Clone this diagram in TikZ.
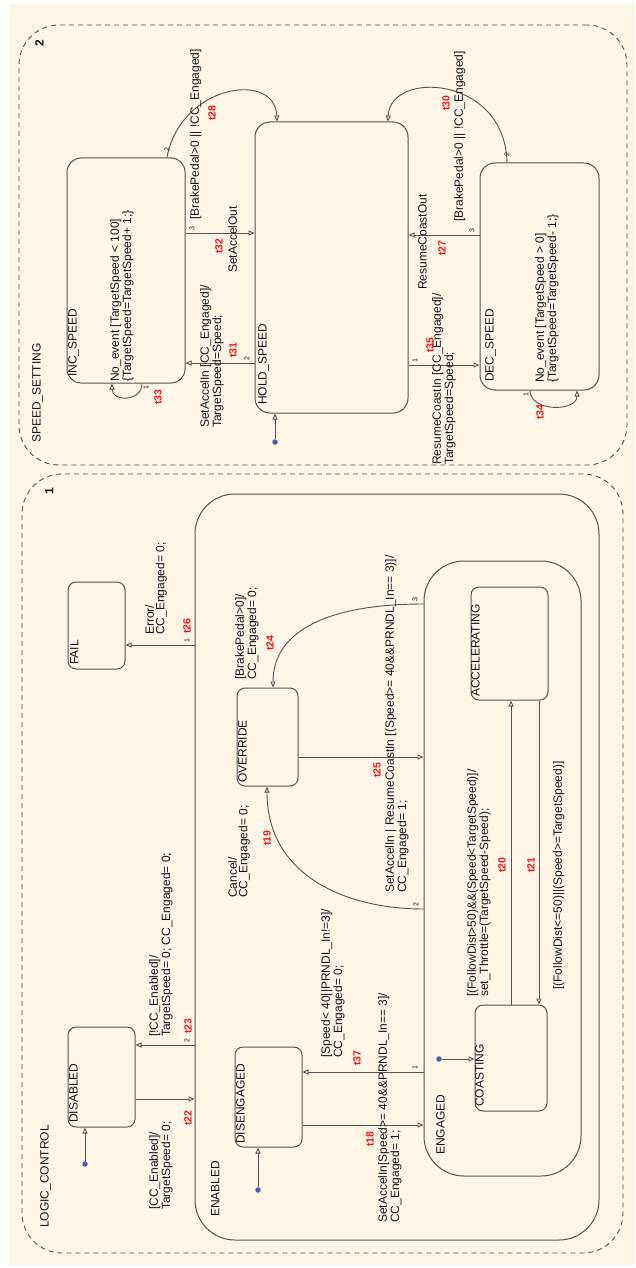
\documentclass[tikz,border=0pt]{standalone}
\usepackage{fontspec}
\setmainfont{Liberation Sans}
\usetikzlibrary{arrows.meta}
\definecolor{bgc}{HTML}{FDF5E6}
\definecolor{linec}{HTML}{555555}
\definecolor{tred}{HTML}{F01818}
\definecolor{dotc}{HTML}{4A5DB0}
\definecolor{txt}{HTML}{141420}
\begin{document}
\begin{tikzpicture}[x=1pt,y=-1pt,
  every node/.style={text=txt},
  stbox/.style={draw=linec, line width=1pt, rectangle, rounded corners=#1, inner sep=0pt},
  stbox/.default=8pt,
  parbox/.style={draw=linec, line width=0.9pt, dash pattern=on 5pt off 4pt, rectangle, rounded corners=40pt, inner sep=0pt},
  lbl/.style={rotate=90, anchor=north west, inner sep=0pt, align=left, font=\fontsize{12}{10.5}\selectfont},
  sname/.style={rotate=90, anchor=north west, inner sep=0pt, font=\fontsize{12}{12}\selectfont},
  tid/.style={rotate=90, text=tred, inner sep=0pt, font=\fontsize{10.5}{11}\selectfont\bfseries},
  num/.style={rotate=90, inner sep=0pt, font=\fontsize{7}{7}\selectfont},
  pnum/.style={rotate=90, anchor=north west, inner sep=0pt, font=\fontsize{12}{12}\selectfont\bfseries},
  trans/.style={draw=linec, line width=0.9pt, -{Triangle[open, length=6pt, width=5pt]}},
  initdot/.style={circle, fill=dotc, inner sep=0pt, minimum size=5.5pt},
]
\fill[white] (0,0) rectangle (635,1268);
\fill[bgc] (9,4) rectangle (635,1265);
\useasboundingbox (0,0) rectangle (635,1268);

% ---------- parallel states ----------
\node[parbox, minimum width=608pt, minimum height=440pt] (ss) at (323,245) {};
\node[parbox, minimum width=601pt, minimum height=779pt] (logic) at (322.5,863.5) {};
\node[pnum] (ssnum) at (35,47) {2};
\node[pnum] (lcnum) at (45,495) {1};
\node[sname] (ssname) at (32,443) {SPEED\_SETTING};
\node[sname] (lcname) at (40,1228) {LOGIC\_CONTROL};

% ---------- SPEED_SETTING states ----------
\node[stbox=14pt, minimum width=118pt, minimum height=225pt] (inc) at (126,270.5) {};
\node[stbox=15pt, minimum width=153pt, minimum height=291pt] (hold) at (331.5,267.5) {};
\node[stbox=15pt, minimum width=119pt, minimum height=227pt] (dec) at (539.5,276.5) {};
\node[sname] (incname) at (68,377) {INC\_SPEED};
\node[sname] (holdname) at (258,405) {HOLD\_SPEED};
\node[sname] (decname) at (485,382) {DEC\_SPEED};

% ---------- LOGIC_CONTROL states ----------
\node[stbox=8pt, minimum width=57pt, minimum height=87pt] (fail) at (96.5,625.5) {};
\node[stbox=40pt, minimum width=404pt, minimum height=746pt] (enabled) at (397,867) {};
\node[stbox=8pt, minimum width=61pt, minimum height=98pt] (override) at (267.5,737) {};
\node[stbox=40pt, minimum width=157pt, minimum height=615pt] (engaged) at (502.5,868.5) {};
\node[stbox=8pt, minimum width=77pt, minimum height=113pt] (accel) at (509.5,643.5) {};
\node[stbox=8pt, minimum width=72pt, minimum height=106pt] (coast) at (511,1058) {};
\node[stbox=8pt, minimum width=67pt, minimum height=100pt] (diseng) at (268.5,1097) {};
\node[stbox=8pt, minimum width=67pt, minimum height=100pt] (disabled) at (101.5,1077) {};
\node[sname] (failname) at (70,665) {FAIL};
\node[sname] (enname) at (211,1217) {ENABLED};
\node[sname] (ovname) at (238,783) {OVERRIDE};
\node[sname] (engname) at (436,1155) {ENGAGED};
\node[sname] (accname) at (471,697) {ACCELERATING};
\node[sname] (coastname) at (475,1107) {COASTING};
\node[sname] (disengname) at (236,1144) {DISENGAGED};
\node[sname] (disabname) at (69,1123) {DISABLED};

% ---------- SPEED_SETTING transitions ----------
\draw[trans] (inc.north -| 167,0) .. controls (180,85) and (275,70) .. (hold.north -| 277,0);
\node[num] (n28) at (167,150) {2};
\node[lbl] (l28) at (190,220) {[BrakePedal>0 || !CC\_Engaged]};
\node[tid] (t28) at (212,113) {t28};

\draw[trans] (inc.east |- 0,233) -- (hold.west |- 0,233);
\node[num] (n32) at (192,229) {3};
\node[lbl] (l32) at (228,273) {SetAccelOut};
\node[tid] (t32) at (219,246) {t32};

\draw[trans] (hold.west |- 0,363) -- (inc.east |- 0,363);
\node[num] (n31) at (247,359) {2};
\node[lbl] (l31) at (200,428) {SetAccelIn [CC\_Engaged]/\\TargetSpeed=Speed;};
\node[tid] (t31) at (233,350) {t31};

\draw[trans] (inc.south -| 142,0) .. controls (142,402) and (112,402) .. (inc.south -| 112,0);
\node[num] (n33) at (146,388) {1};
\node[lbl] (l33) at (110,382) {No\_event [TargetSpeed < 100]\\\{TargetSpeed=TargetSpeed+ 1;\}};
\node[tid] (t33) at (158,397) {t33};

\draw[trans] (dec.north -| 507,0) .. controls (505,75) and (390,70) .. (hold.north -| 388,0);
\node[num] (n30) at (507,155) {2};
\node[lbl] (l30) at (454,222) {[BrakePedal>0 || !CC\_Engaged]};
\node[tid] (t30) at (446,103) {t30};

\draw[trans] (dec.west |- 0,235) -- (hold.east |- 0,235);
\node[num] (n27) at (472,231) {3};
\node[lbl] (l27) at (418,290) {ResumeCoastOut};
\node[tid] (t27) at (442,248) {t27};

\draw[trans] (hold.east |- 0,365) -- (dec.west |- 0,365);
\node[num] (n35) at (415,361) {1};
\node[lbl] (l35) at (432,465) {ResumeCoastIn [CC\_Engaged]/\\TargetSpeed=Speed;};
\node[tid] (t35) at (430,345) {t35};

\draw[trans] (dec.south -| 530,0) .. controls (530,412) and (577,412) .. (dec.south -| 577,0);
\node[num] (n34) at (526,395) {1};
\node[lbl] (l34) at (535,383) {No\_event [TargetSpeed > 0]\\\{TargetSpeed=TargetSpeed- 1;\}};
\node[tid] (t34) at (540,412) {t34};

\node[initdot] (d1) at (275,442) {};
\draw[trans] (d1) -- (hold.south -| d1);

% ---------- LOGIC_CONTROL transitions ----------
\draw[trans] (enabled.west |- 0,645) -- (fail.east |- 0,645);
\node[num] (n26) at (187,641) {1};
\node[lbl] (l26) at (145,635) {Error/\\CC\_Engaged= 0;};
\node[tid] (t26) at (187,626) {t26};

\draw[trans] (engaged.west |- 0,604) .. controls (330,604) and (273,630) .. (override.north -| 273,0);
\node[num] (n24) at (415,600) {3};
\node[lbl] (l24) at (235,680) {[BrakePedal>0]/\\CC\_Engaged= 0;};
\node[tid] (t24) at (270,643) {t24};

\draw[trans] (override.east |- 0,757) -- (engaged.west |- 0,757);
\node[lbl] (l25) at (385,893) {SetAccelIn | ResumeCoastIn [(Speed>= 40\&\&PRNDL\_In== 3)]/\\CC\_Engaged= 1;};
\node[tid] (t25) at (377,770) {t25};

\draw[trans] (engaged.west |- 0,909) .. controls (345,909) and (267,875) .. (override.south -| 267,0);
\node[num] (n19) at (416,905) {2};
\node[lbl] (l19) at (228,898) {Cancel/\\CC\_Engaged= 0;};
\node[tid] (t19) at (267,838) {t19};

\draw[trans] (coast.north -| 511,0) -- (accel.south -| 511,0);
\node[lbl] (l20) at (467,997) {[(FollowDist>50)\&\&(Speed<TargetSpeed)]/\\set\_Throttle=(TargetSpeed-Speed);};
\node[tid] (t20) at (502,865) {t20};

\draw[trans] (accel.south -| 539,0) -- (coast.north -| 539,0);
\node[lbl] (l21) at (553,990) {[(FollowDist<=50)||(Speed>=TargetSpeed)]};
\node[tid] (t21) at (531,865) {t21};

\node[initdot] (d2) at (439,1059) {};
\draw[trans] (d2) -- (coast.west |- d2);

\draw[trans] (engaged.west |- 0,1072) -- (diseng.east |- 0,1072);
\node[num] (n37) at (415,1068) {1};
\node[lbl] (l37) at (321,1058) {[Speed< 40||PRNDL\_In!=3]/\\CC\_Engaged= 0;};
\node[tid] (t37) at (357,1058) {t37};

\draw[trans] (diseng.east |- 0,1125) -- (engaged.west |- 0,1125);
\node[lbl] (l18) at (378,1223) {SetAccelIn[Speed>= 40\&\&PRNDL\_In== 3]/\\CC\_Engaged= 1;};
\node[tid] (t18) at (370,1139) {t18};

\node[initdot] (d3) at (258,1190) {};
\draw[trans] (d3) -- (diseng.south -| d3);

\draw[trans] (enabled.west |- 0,1045) -- (disabled.east |- 0,1045);
\node[num] (n23) at (187,1041) {2};
\node[lbl] (l23) at (149,1037) {[!CC\_Enabled]/\\TargetSpeed= 0; CC\_Engaged= 0;};
\node[tid] (t23) at (188,1026) {t23};

\draw[trans] (disabled.east |- 0,1099) -- (enabled.west |- 0,1099);
\node[lbl] (l22) at (149,1210) {[CC\_Enabled]/\\TargetSpeed= 0;};
\node[tid] (t22) at (188,1118) {t22};

\node[initdot] (d4) at (85,1164) {};
\draw[trans] (d4) -- (disabled.south -| d4);
\end{tikzpicture}
\end{document}
